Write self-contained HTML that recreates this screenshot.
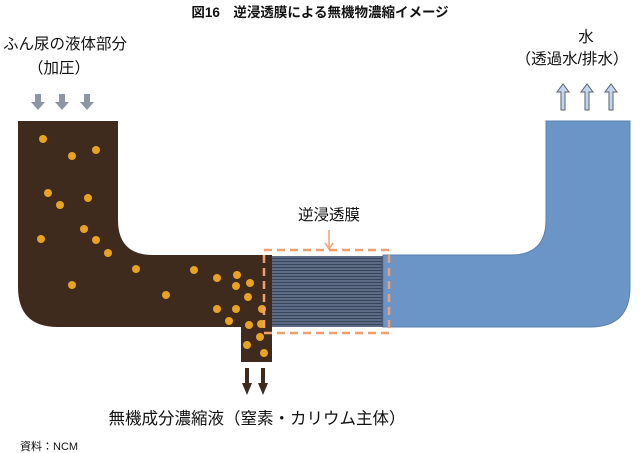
<!DOCTYPE html>
<html><head><meta charset="utf-8"><style>
html,body{margin:0;padding:0;background:#fff;}
svg{display:block;}
text{font-family:"Liberation Sans","Noto Sans CJK JP",sans-serif;fill:#111;}
</style></head><body>
<svg width="640" height="453" viewBox="0 0 640 453" xmlns="http://www.w3.org/2000/svg">
<defs>
<pattern id="st" width="4" height="3" patternUnits="userSpaceOnUse">
<rect width="4" height="3" fill="#5c6b86"/>
<rect width="4" height="1" fill="#3a4458"/>
</pattern>
</defs>
<text x="320" y="17" font-size="13.5" font-weight="bold" text-anchor="middle">図16　逆浸透膜による無機物濃縮イメージ</text>
<text x="3" y="49" font-size="15.5">ふん尿の液体部分</text>
<text x="28" y="73" font-size="15.5">（加圧）</text>
<text x="586" y="42" font-size="15.5" text-anchor="middle">水</text>
<text x="572" y="64" font-size="15.5" text-anchor="middle">（透過水/排水）</text>

<!-- gray down arrows -->
<g fill="#8d96a4">
<path d="M35 94h6v8h4l-7 8l-7-8h4z"/>
<path d="M59 94h6v8h4l-7 8l-7-8h4z"/>
<path d="M84 94h6v8h4l-7 8l-7-8h4z"/>
</g>
<!-- blue up arrows -->
<g fill="#c5d6ec" stroke="#55606e" stroke-width="1">
<path d="M561 110v-18h-4l6-8l6 8h-4v18z"/>
<path d="M585 110v-18h-4l6-8l6 8h-4v18z"/>
<path d="M609 110v-18h-4l6-8l6 8h-4v18z"/>
</g>

<!-- brown -->
<path d="M18 121H118V220Q118 255 153 255H272V327H241V362H272V327H58Q18 327 18 287Z" fill="#3f2a1e"/>
<path d="M241 327H272V362H241Z" fill="#3f2a1e"/>
<!-- blue -->
<path d="M383 255H511Q546 255 546 220V121H630V287Q630 327 590 327H383Z" fill="#6a95c6" stroke="#5a80ad" stroke-width="1"/>
<!-- membrane -->
<rect x="272" y="256" width="111" height="71" fill="url(#st)"/>
<line x1="382" y1="256" x2="382" y2="327" stroke="#4a5a78" stroke-width="1.5"/>

<g fill="#e8a323">
<circle cx="43" cy="139" r="4"/><circle cx="72" cy="156" r="4"/><circle cx="96" cy="150" r="4"/>
<circle cx="48" cy="193" r="4"/><circle cx="60" cy="205" r="4"/><circle cx="88" cy="198" r="4"/>
<circle cx="84" cy="229" r="4"/><circle cx="96" cy="240" r="4"/><circle cx="108" cy="253" r="4"/>
<circle cx="41" cy="239" r="4"/><circle cx="72" cy="285" r="4"/><circle cx="136" cy="269" r="4"/>
<circle cx="166" cy="295" r="4"/><circle cx="194" cy="270" r="4"/><circle cx="217" cy="278" r="4"/>
<circle cx="237" cy="275" r="4"/><circle cx="236" cy="286" r="4"/><circle cx="250" cy="283" r="4"/>
<circle cx="248" cy="297" r="4"/><circle cx="217" cy="309" r="4"/><circle cx="236" cy="309" r="4"/>
<circle cx="262" cy="309" r="4"/><circle cx="229" cy="321" r="4"/><circle cx="249" cy="325" r="4"/>
<circle cx="261" cy="324" r="4"/><circle cx="260" cy="337" r="4"/><circle cx="247" cy="345" r="4"/>
<circle cx="264" cy="353" r="4"/>
</g>

<rect x="264" y="250" width="125" height="83" fill="none" stroke="#f0a070" stroke-width="2.5" stroke-dasharray="8,5"/>
<text x="329" y="220" font-size="15.5" text-anchor="middle">逆浸透膜</text>
<line x1="329" y1="230" x2="329" y2="247" stroke="#f0a070" stroke-width="1.5"/>
<path d="M325 243l4 6l4-6" fill="none" stroke="#f0a070" stroke-width="1.5"/>

<!-- brown down arrows -->
<g fill="#3f2a1e">
<path d="M245 368h4v15h3l-5 12l-5-12h3z"/>
<path d="M261 368h4v15h3l-5 12l-5-12h3z"/>
</g>

<text x="257" y="424" font-size="16.5" text-anchor="middle">無機成分濃縮液（窒素・カリウム主体）</text>
<text x="20" y="450" font-size="11">資料：NCM</text>
</svg>
</body></html>
